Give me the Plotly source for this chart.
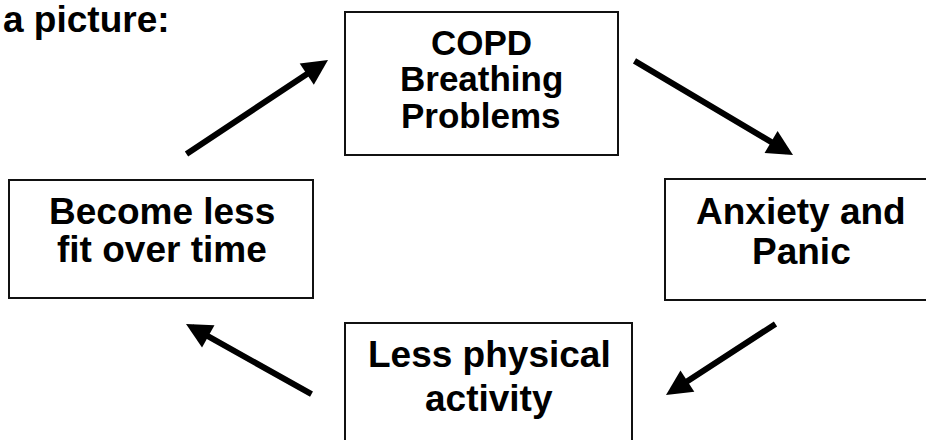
import plotly.graph_objects as go

# ---- content ----
header_text = "a picture:"
box_lines = [
    ["COPD", "Breathing", "Problems"],
    ["Anxiety and", "Panic"],
    ["Less physical", "activity"],
    ["Become less", "fit over time"],
]

# ---- layout (pixel-space coordinates, y downward) ----
box_x0 = [345, 665, 345, 9]
box_x1 = [618, 940, 632, 313]
box_y0 = [12, 179, 323, 180]
box_y1 = [155, 300, 460, 298]
text_cx = [481, 801, 489, 161.5]
line_baselines = [[55, 91, 128], [225, 265], [368, 412], [225, 263]]
font_sizes = [35, 37, 37, 37]

arrow_tail_x = [633, 777, 313, 185]
arrow_tail_y = [60, 323, 395, 155]
arrow_tip_x = [793, 666, 186, 328]
arrow_tip_y = [155, 395, 324, 60]

W, H = 926, 440
FONT = "Liberation Sans, Arial, sans-serif"

fig = go.Figure()
fig.add_trace(go.Scatter(x=[0, W], y=[0, H], mode="markers",
                         marker=dict(opacity=0), hoverinfo="skip", showlegend=False))

for i in range(len(box_lines)):
    fig.add_shape(type="rect", xref="x", yref="y",
                  x0=box_x0[i], x1=box_x1[i], y0=box_y0[i], y1=box_y1[i],
                  line=dict(color="#111111", width=2), fillcolor="white", layer="below")
    fs = font_sizes[i]
    for line, base in zip(box_lines[i], line_baselines[i]):
        fig.add_annotation(x=text_cx[i], y=base - 0.36 * fs, xref="x", yref="y",
                           text="<b>%s</b>" % line, showarrow=False,
                           xanchor="center", yanchor="middle",
                           font=dict(family=FONT, size=fs, color="black"))

for i in range(len(arrow_tip_x)):
    fig.add_annotation(x=arrow_tip_x[i], y=arrow_tip_y[i],
                       ax=arrow_tail_x[i], ay=arrow_tail_y[i],
                       xref="x", yref="y", axref="x", ayref="y",
                       text="", showarrow=True, arrowhead=2, arrowsize=0.85,
                       arrowwidth=6, arrowcolor="black", standoff=0, startstandoff=0)

fig.add_annotation(x=1, y=33 - 0.36 * 37, xref="x", yref="y",
                   text="<b>%s</b>" % header_text, showarrow=False,
                   xanchor="left", yanchor="middle",
                   font=dict(family=FONT, size=37, color="black"))

fig.update_xaxes(range=[0, W], visible=False, fixedrange=True)
fig.update_yaxes(range=[H, 0], visible=False, fixedrange=True)
fig.update_layout(width=W, height=H, margin=dict(l=0, r=0, t=0, b=0),
                  plot_bgcolor="white", paper_bgcolor="white", showlegend=False)

fig.write_html("out.html", config={"displayModeBar": False},
               post_script="document.body.style.margin='0';document.body.style.overflow='hidden';")
